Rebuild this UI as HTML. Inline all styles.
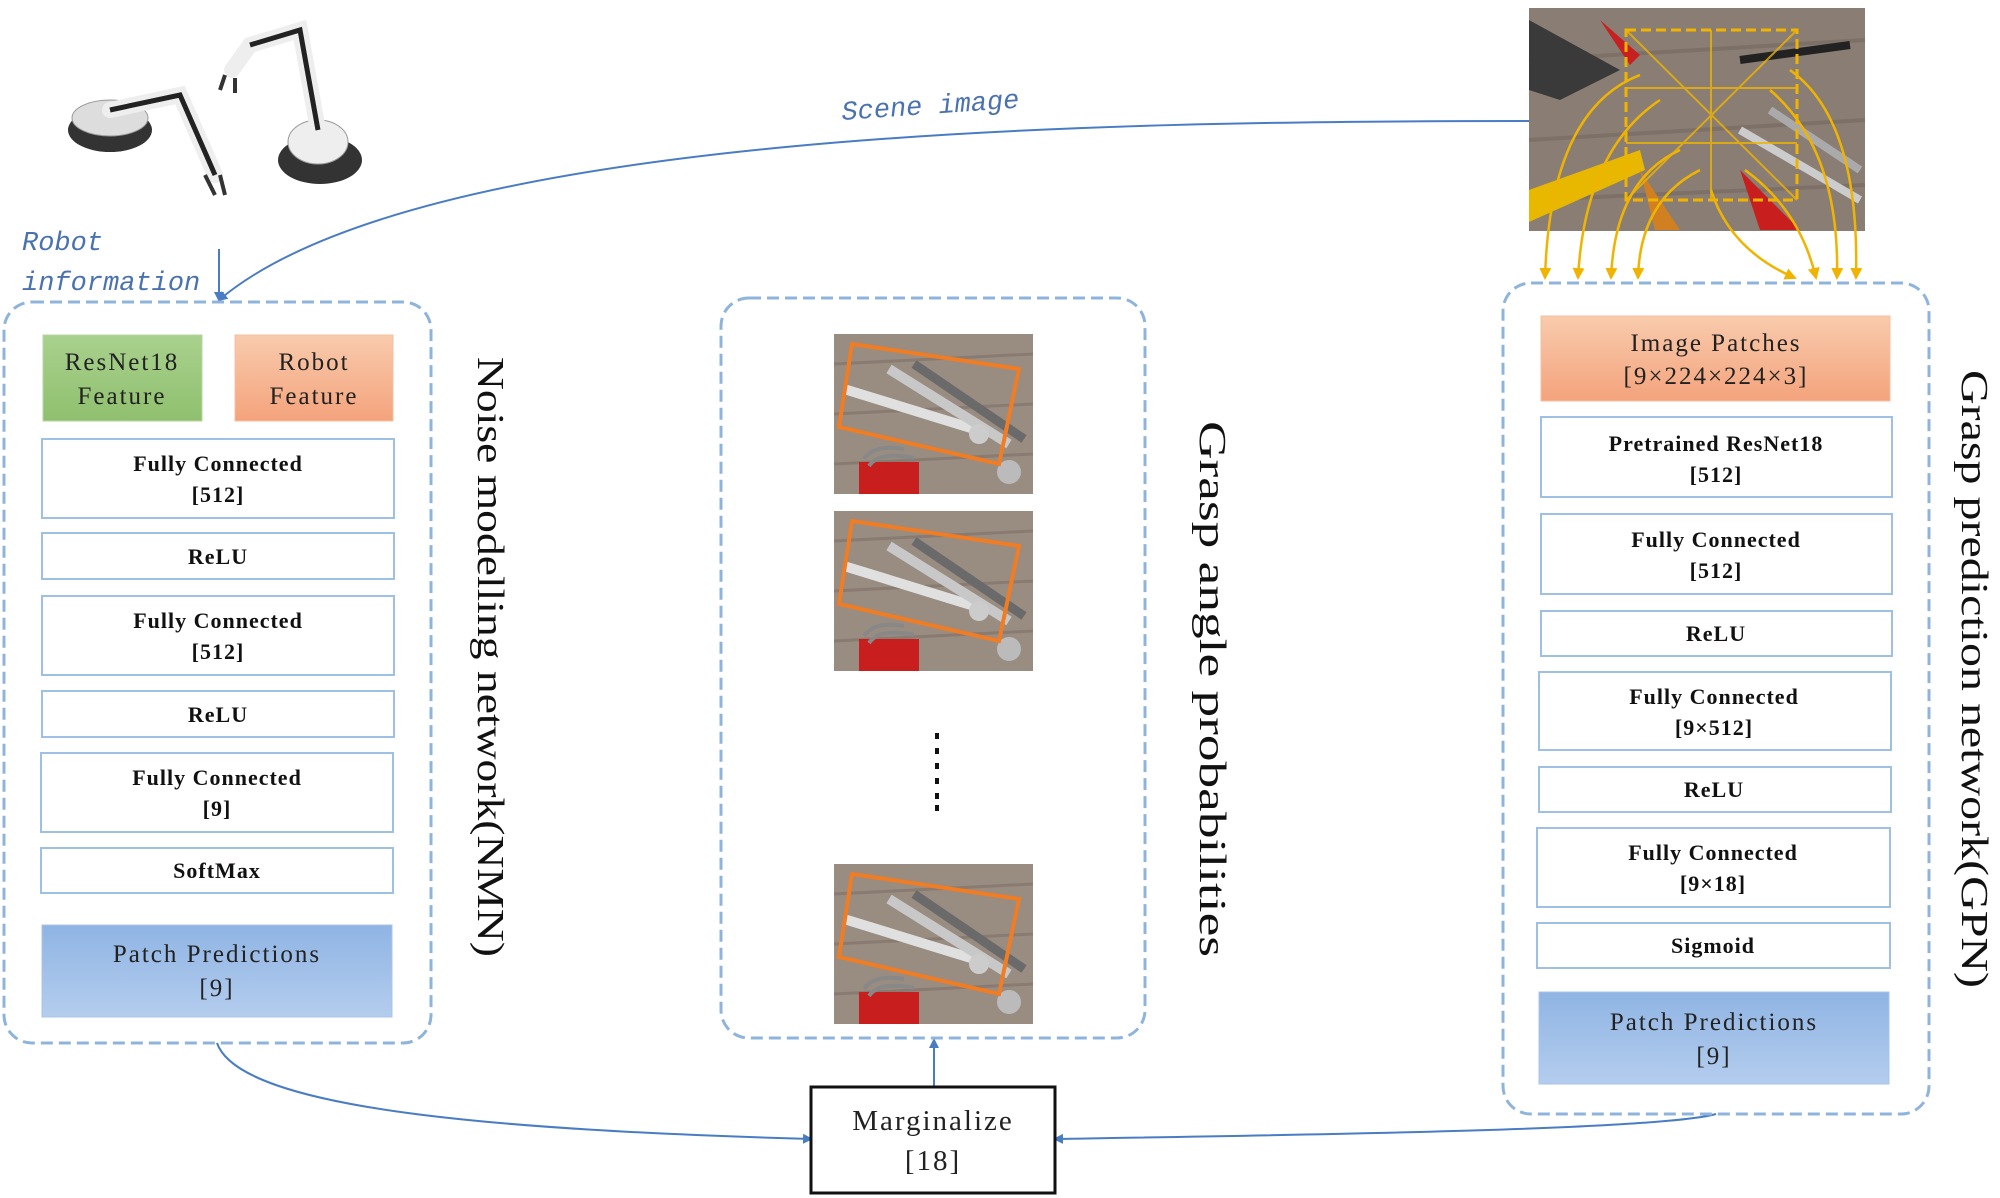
<!DOCTYPE html>
<html><head><meta charset="utf-8"><style>
html,body{margin:0;padding:0;background:#fff}
svg{display:block}
.bt{font-family:"Liberation Serif",serif;font-weight:bold;font-size:22px;fill:#111;letter-spacing:1px}
.ct{font-family:"Liberation Serif",serif;font-size:25px;fill:#222;letter-spacing:2px}
.lab{font-family:"Liberation Mono",serif;font-style:italic;font-size:27px;fill:#4a72b0}
.vt{font-family:"Liberation Serif","DejaVu Serif",serif;font-size:38px;fill:#111}
</style></head><body>
<svg width="2000" height="1198" viewBox="0 0 2000 1198" xmlns="http://www.w3.org/2000/svg">
<defs>
<linearGradient id="gg" x1="0" y1="0" x2="0" y2="1"><stop offset="0" stop-color="#a9d18e"/><stop offset="1" stop-color="#8fc06e"/></linearGradient>
<linearGradient id="og" x1="0" y1="0" x2="0" y2="1"><stop offset="0" stop-color="#f8cbad"/><stop offset="1" stop-color="#f4a37c"/></linearGradient>
<linearGradient id="bg" x1="0" y1="0" x2="0" y2="1"><stop offset="0" stop-color="#8fb4e3"/><stop offset="1" stop-color="#b4cdee"/></linearGradient>
<marker id="ab" markerWidth="10" markerHeight="10" refX="8" refY="5" orient="auto" markerUnits="userSpaceOnUse"><path d="M0,0 L10,5 L0,10 z" fill="#4a7cc4"/></marker>
<marker id="ay" markerWidth="12" markerHeight="12" refX="10" refY="6" orient="auto" markerUnits="userSpaceOnUse"><path d="M0,0 L12,6 L0,12 z" fill="#f0b400"/></marker>
<g id="wr">
<rect x="0" y="0" width="199" height="160" fill="#8b7c70"/>
<rect x="0" y="0" width="199" height="160" fill="#a89c92" opacity="0.5"/>
<path d="M0,30 L199,20 M0,80 L199,70 M0,130 L199,120" stroke="#7a6c62" stroke-width="3" opacity="0.5"/>
<path d="M10,55 L140,95" stroke="#e0e0e0" stroke-width="10"/>
<path d="M55,35 L175,110" stroke="#c8c8c8" stroke-width="10"/>
<path d="M80,30 L190,105" stroke="#6a6a6a" stroke-width="9"/>
<circle cx="145" cy="100" r="10" fill="#ccc"/><circle cx="175" cy="138" r="12" fill="#bbb"/>
<rect x="25" y="128" width="60" height="32" fill="#c81e1e"/>
<path d="M30,125 q10,-15 40,-10 M35,132 q10,-15 45,-8" stroke="#888" stroke-width="4" fill="none"/>
<polygon points="18,10 185,35 165,130 5,93" fill="none" stroke="#f07c24" stroke-width="4"/>
</g>
</defs>

<!-- robot arms -->
<g>
<ellipse cx="110" cy="130" rx="42" ry="22" fill="#333"/>
<ellipse cx="110" cy="118" rx="38" ry="18" fill="#ddd" stroke="#999"/>
<path d="M110,110 L180,95 L215,175" stroke="#eee" stroke-width="16" fill="none" stroke-linecap="round"/>
<path d="M110,110 L180,95 L215,175" stroke="#222" stroke-width="5" fill="none"/>
<path d="M205,175 l10,20 m5,-20 l5,20" stroke="#333" stroke-width="4"/>
<ellipse cx="320" cy="160" rx="42" ry="24" fill="#333"/>
<ellipse cx="318" cy="142" rx="30" ry="22" fill="#eee" stroke="#999"/>
<path d="M318,130 L300,30 L250,45 L232,70" stroke="#eee" stroke-width="16" fill="none" stroke-linecap="round"/>
<path d="M318,130 L300,30 L250,45" stroke="#222" stroke-width="5" fill="none"/>
<path d="M225,75 l-5,15 m15,-12 l0,15" stroke="#333" stroke-width="4"/>
</g>

<!-- scene photo -->
<g>
<rect x="1529" y="8" width="336" height="223" fill="#8a7e74"/>
<path d="M1529,60 L1865,40 M1529,140 L1865,120 M1529,200 L1865,185" stroke="#746860" stroke-width="4" opacity="0.6"/>
<path d="M1529,20 L1620,70 L1560,100 L1529,90z" fill="#3a3a3a"/>
<path d="M1600,20 l40,35 l-10,10z" fill="#c82020"/>
<path d="M1529,190 L1640,150 L1645,170 L1529,222z" fill="#e8b800"/>
<path d="M1640,170 l40,60 l-25,0z" fill="#d08020"/>
<path d="M1740,170 l60,60 l-40,0z" fill="#c81e1e"/>
<path d="M1740,130 L1860,200" stroke="#ccc" stroke-width="8"/>
<path d="M1770,110 L1860,170" stroke="#aaa" stroke-width="8"/>
<path d="M1740,60 L1850,45" stroke="#222" stroke-width="8"/>
<rect x="1626" y="30" width="171" height="170" fill="none" stroke="#f0b400" stroke-width="3" stroke-dasharray="10,5"/>
<path d="M1626,88 H1797 M1626,143 H1797 M1711,30 V200 M1626,200 L1797,30 M1626,30 L1797,200" stroke="#f0b400" stroke-width="2" opacity="0.8"/>
</g>

<!-- yellow arrows -->
<g stroke="#f0b400" stroke-width="2.5" fill="none" marker-end="url(#ay)">
<path d="M1640,75 Q1550,110 1545,278"/>
<path d="M1660,100 Q1585,150 1578,278"/>
<path d="M1680,150 Q1615,180 1611,278"/>
<path d="M1700,170 Q1640,200 1638,278"/>
<path d="M1711,190 Q1730,250 1795,278"/>
<path d="M1745,170 Q1800,210 1816,278"/>
<path d="M1770,90 Q1840,150 1837,278"/>
<path d="M1790,70 Q1860,120 1856,278"/>
</g>

<!-- blue curves -->
<path d="M1529,121 C1100,121 420,130 219,300" stroke="#4a7cc4" stroke-width="2" fill="none" marker-end="url(#ab)"/>
<path d="M219,249 V300" stroke="#4a7cc4" stroke-width="2" fill="none" marker-end="url(#ab)"/>
<path d="M217,1043 C240,1110 500,1130 811,1139" stroke="#4a7cc4" stroke-width="2" fill="none" marker-end="url(#ab)"/>
<path d="M1716,1114 C1660,1130 1300,1135 1055,1139" stroke="#4a7cc4" stroke-width="2" fill="none" marker-end="url(#ab)"/>
<path d="M934,1087 V1040" stroke="#4a7cc4" stroke-width="2" fill="none" marker-end="url(#ab)"/>

<text class="lab" x="842" y="120" transform="rotate(-4 842 120)">Scene image</text>
<text class="lab" x="22" y="250">Robot</text>
<text class="lab" x="22" y="290">information</text>

<!-- left box -->
<rect x="4" y="302" width="427" height="741" rx="28" fill="none" stroke="#8fb4dc" stroke-width="3" stroke-dasharray="12,6"/>
<rect x="43" y="335" width="159" height="86" fill="url(#gg)" stroke="#b8d4a0"/>
<text class="ct" x="122" y="370" text-anchor="middle">ResNet18</text>
<text class="ct" x="122" y="404" text-anchor="middle">Feature</text>
<rect x="235" y="335" width="158" height="86" fill="url(#og)" stroke="#f4c0a0"/>
<text class="ct" x="314" y="370" text-anchor="middle">Robot</text>
<text class="ct" x="314" y="404" text-anchor="middle">Feature</text>
<g fill="#fff" stroke="#9dc0e4" stroke-width="2">
<rect x="42" y="439" width="352" height="79"/>
<rect x="42" y="533" width="352" height="46"/>
<rect x="42" y="596" width="352" height="79"/>
<rect x="42" y="691" width="352" height="46"/>
<rect x="41" y="753" width="352" height="79"/>
<rect x="41" y="848" width="352" height="45"/>
</g>
<text class="bt" x="218" y="471" text-anchor="middle">Fully Connected</text>
<text class="bt" x="218" y="502" text-anchor="middle">[512]</text>
<text class="bt" x="218" y="564" text-anchor="middle">ReLU</text>
<text class="bt" x="218" y="628" text-anchor="middle">Fully Connected</text>
<text class="bt" x="218" y="659" text-anchor="middle">[512]</text>
<text class="bt" x="218" y="722" text-anchor="middle">ReLU</text>
<text class="bt" x="217" y="785" text-anchor="middle">Fully Connected</text>
<text class="bt" x="217" y="816" text-anchor="middle">[9]</text>
<text class="bt" x="217" y="878" text-anchor="middle">SoftMax</text>
<rect x="42" y="925" width="350" height="92" fill="url(#bg)" stroke="#a8c4e8"/>
<text class="ct" x="217" y="962" text-anchor="middle">Patch Predictions</text>
<text class="ct" x="217" y="996" text-anchor="middle">[9]</text>
<text class="vt" transform="translate(478 357) rotate(90)" textLength="600" lengthAdjust="spacingAndGlyphs">Noise modelling network(NMN)</text>

<!-- middle box -->
<rect x="721" y="298" width="424" height="740" rx="28" fill="none" stroke="#8fb4dc" stroke-width="3" stroke-dasharray="12,6"/>
<use href="#wr" x="834" y="334"/>
<use href="#wr" x="834" y="511"/>
<use href="#wr" x="834" y="864"/>
<g fill="#111"><rect x="935" y="733" width="4" height="6"/><rect x="935" y="748" width="4" height="6"/><rect x="935" y="763" width="4" height="6"/><rect x="935" y="778" width="4" height="6"/><rect x="935" y="793" width="4" height="6"/><rect x="935" y="805" width="4" height="6"/></g>
<text class="vt" transform="translate(1200 421) rotate(90)" textLength="536" lengthAdjust="spacingAndGlyphs">Grasp angle probabilities</text>

<rect x="811" y="1087" width="244" height="106" fill="#fff" stroke="#111" stroke-width="3"/>
<text class="ct" x="933" y="1130" text-anchor="middle" style="font-size:29px">Marginalize</text>
<text class="ct" x="933" y="1170" text-anchor="middle" style="font-size:29px">[18]</text>

<!-- right box -->
<rect x="1503" y="283" width="426" height="831" rx="28" fill="none" stroke="#8fb4dc" stroke-width="3" stroke-dasharray="12,6"/>
<rect x="1541" y="316" width="349" height="85" fill="url(#og)" stroke="#f4c0a0"/>
<text class="ct" x="1716" y="351" text-anchor="middle">Image Patches</text>
<text class="ct" x="1716" y="384" text-anchor="middle">[9×224×224×3]</text>
<g fill="#fff" stroke="#9dc0e4" stroke-width="2">
<rect x="1541" y="417" width="351" height="80"/>
<rect x="1541" y="514" width="351" height="80"/>
<rect x="1541" y="611" width="351" height="45"/>
<rect x="1539" y="672" width="352" height="78"/>
<rect x="1539" y="767" width="352" height="45"/>
<rect x="1537" y="828" width="353" height="79"/>
<rect x="1537" y="923" width="353" height="45"/>
</g>
<text class="bt" x="1716" y="451" text-anchor="middle">Pretrained ResNet18</text>
<text class="bt" x="1716" y="482" text-anchor="middle">[512]</text>
<text class="bt" x="1716" y="547" text-anchor="middle">Fully Connected</text>
<text class="bt" x="1716" y="578" text-anchor="middle">[512]</text>
<text class="bt" x="1716" y="641" text-anchor="middle">ReLU</text>
<text class="bt" x="1714" y="704" text-anchor="middle">Fully Connected</text>
<text class="bt" x="1714" y="735" text-anchor="middle">[9×512]</text>
<text class="bt" x="1714" y="797" text-anchor="middle">ReLU</text>
<text class="bt" x="1713" y="860" text-anchor="middle">Fully Connected</text>
<text class="bt" x="1713" y="891" text-anchor="middle">[9×18]</text>
<text class="bt" x="1713" y="953" text-anchor="middle">Sigmoid</text>
<rect x="1539" y="992" width="350" height="92" fill="url(#bg)" stroke="#a8c4e8"/>
<text class="ct" x="1714" y="1030" text-anchor="middle">Patch Predictions</text>
<text class="ct" x="1714" y="1064" text-anchor="middle">[9]</text>
<text class="vt" transform="translate(1962 370) rotate(90)" textLength="618" lengthAdjust="spacingAndGlyphs">Grasp prediction network(GPN)</text>
</svg>
</body></html>
